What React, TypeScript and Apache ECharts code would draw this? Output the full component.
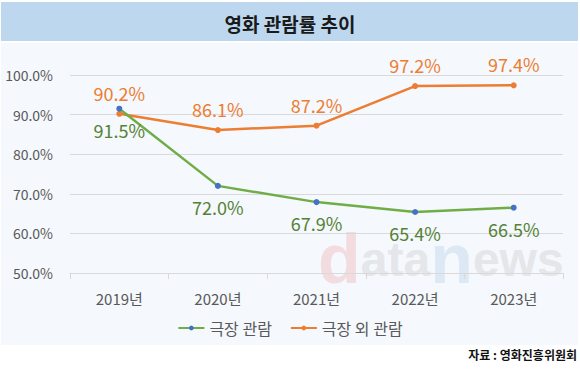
import React, { useEffect, useRef } from "react";
import * as echarts from "echarts";

const years = ["2019년", "2020년", "2021년", "2022년", "2023년"];
const theaterValues = [91.5, 72.0, 67.9, 65.4, 66.5];
const outsideValues = [90.2, 86.1, 87.2, 97.2, 97.4];
const seriesNames = ["극장 관람", "극장 외 관람"];
const titleText = "영화 관람률 추이";
const sourceText = "자료 : 영화진흥위원회";

const FONT = '"Noto Sans CJK KR", "Noto Sans", sans-serif';
const WM_FONT = '"Liberation Sans", Arial, sans-serif';

export default function App() {
  const ref = useRef<HTMLDivElement>(null);
  useEffect(() => {
    if (!ref.current) return;
    const chart = echarts.init(ref.current, undefined, { renderer: "svg" });
    chart.setOption({
      animation: false,
      backgroundColor: "#ffffff",
      textStyle: { fontFamily: FONT },
      title: {
        text: titleText,
        left: "center",
        top: 9,
        textStyle: { fontFamily: FONT, fontSize: 19, fontWeight: "bold", color: "#1a1a1a" },
      },
      graphic: [
        { type: "rect", z: -10, silent: true, shape: { x: 1, y: 2, width: 577, height: 39 }, style: { fill: "#bdd7ee" } },
        { type: "rect", z: -10, silent: true, shape: { x: 1, y: 43, width: 577, height: 302 }, style: { fill: "#f5f8fc" } },
        {
          type: "text",
          z: -5,
          silent: true,
          x: 318,
          y: 224,
          style: {
            text: "{d|d}{g|ata}{n|n}{g|ews}",
            fontFamily: WM_FONT,
            rich: {
              d: { fontSize: 70, fontWeight: "bold", fill: "#f3dcdf", fontFamily: WM_FONT },
              g: { fontSize: 48, fontWeight: "bold", fill: "#e4e6ea", fontFamily: WM_FONT },
              n: { fontSize: 70, fontWeight: "bold", fill: "#dce9f5", fontFamily: WM_FONT },
            },
          },
        },
        {
          type: "text",
          right: 3,
          top: 348,
          style: { text: sourceText, fontFamily: FONT, fontSize: 12, fontWeight: "bold", fill: "#111111" },
        },
      ],
      legend: {
        data: seriesNames,
        left: "center",
        top: 315,
        itemWidth: 26,
        itemHeight: 6,
        itemGap: 18,
        textStyle: { fontFamily: FONT, fontSize: 16, color: "#595959" },
      },
      grid: { left: 70, right: 17, top: 75, bottom: 100, containLabel: false },
      xAxis: {
        type: "category",
        data: years,
        boundaryGap: true,
        axisLine: { lineStyle: { color: "#d9d9d9", width: 1 } },
        axisTick: { show: true, length: 6, lineStyle: { color: "#d9d9d9" } },
        axisLabel: { fontFamily: FONT, fontSize: 15, color: "#595959", margin: 18 },
      },
      yAxis: {
        type: "value",
        min: 50,
        max: 100,
        interval: 10,
        axisLine: { show: false },
        axisTick: { show: false },
        splitLine: { lineStyle: { color: "#d9d9d9", width: 1 } },
        axisLabel: {
          fontFamily: FONT,
          fontSize: 14,
          color: "#595959",
          margin: 17,
          formatter: (v: number) => v.toFixed(1) + "%",
        },
      },
      series: [
        {
          name: seriesNames[0],
          type: "line",
          data: theaterValues,
          symbol: "circle",
          symbolSize: 6,
          itemStyle: { color: "#4472c4" },
          lineStyle: { color: "#70ad47", width: 2.5 },
          z: 3,
          label: {
            show: true,
            position: "bottom",
            distance: 9,
            fontFamily: FONT,
            fontSize: 18,
            color: "#548235",
            formatter: (p: any) => p.value.toFixed(1) + "%",
          },
        },
        {
          name: seriesNames[1],
          type: "line",
          data: outsideValues,
          symbol: "circle",
          symbolSize: 6,
          itemStyle: { color: "#ed7d31" },
          lineStyle: { color: "#ed7d31", width: 2.5 },
          z: 2,
          label: {
            show: true,
            position: "top",
            distance: 9,
            fontFamily: FONT,
            fontSize: 18,
            color: "#ed7d31",
            formatter: (p: any) => p.value.toFixed(1) + "%",
          },
        },
      ],
    });
    return () => chart.dispose();
  }, []);
  return (
    <div
      ref={ref}
      style={{ position: "absolute", left: 0, top: 0, width: 580, height: 373 }}
    />
  );
}
